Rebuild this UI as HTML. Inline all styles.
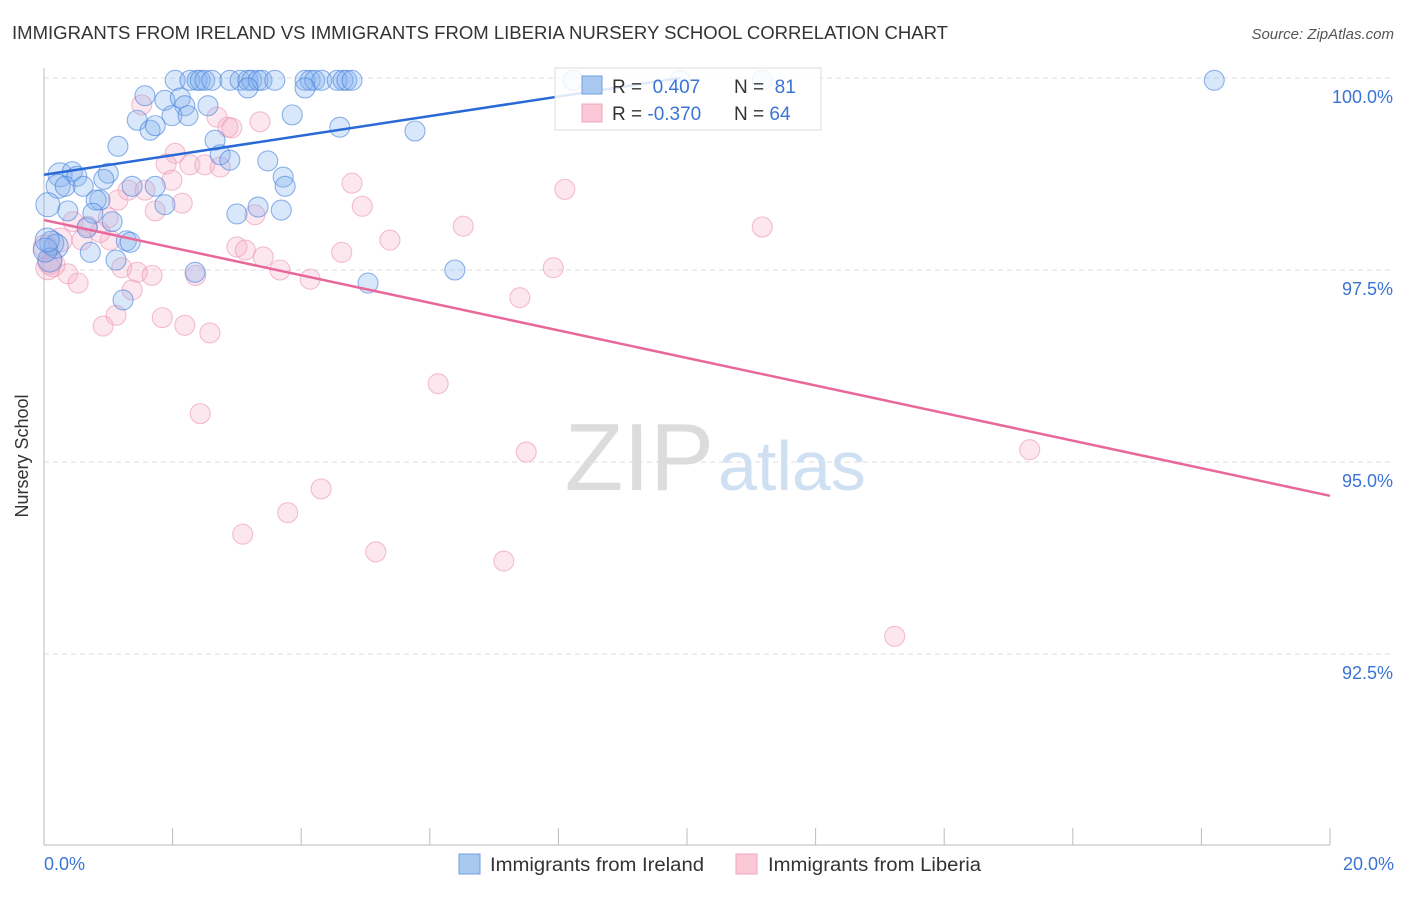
<!DOCTYPE html>
<html><head><meta charset="utf-8"><style>
body{margin:0;background:#fff;font-family:"Liberation Sans",sans-serif}
svg text{font-family:"Liberation Sans",sans-serif}
</style></head><body>
<svg id="c" width="1406" height="892">
<text x="12" y="39" font-size="18" fill="#333" textLength="936" lengthAdjust="spacingAndGlyphs">IMMIGRANTS FROM IRELAND VS IMMIGRANTS FROM LIBERIA NURSERY SCHOOL CORRELATION CHART</text>
<text x="1394" y="39" font-size="15" fill="#555" text-anchor="end" font-style="italic">Source: ZipAtlas.com</text>
<g id="grid"></g>
<text x="714" y="490" font-size="96" fill="#dcdcdc" text-anchor="end" font-family="Liberation Serif">ZIP</text>
<text x="718" y="490" font-size="70" fill="#cfe0f3">atlas</text>
<line x1="44" y1="68" x2="44" y2="845" stroke="#bbb"/>
<line x1="44" y1="845" x2="1330" y2="845" stroke="#bbb"/>
<g id="ticks"></g>
<g id="pts"></g>
<g id="lines"></g>
<text x="28" y="456" font-size="18" fill="#333" text-anchor="middle" transform="rotate(-90 28 456)">Nursery School</text>
<text x="44" y="870" font-size="18" fill="#3a74d4">0.0%</text>
<text x="1394" y="870" font-size="18" fill="#3a74d4" text-anchor="end">20.0%</text>
<g>
<rect x="555" y="68" width="266" height="62" fill="#fff" fill-opacity="0.85" stroke="#ddd"/>
<rect x="582" y="76" width="20" height="18" fill="#a9c8f0" stroke="#6f9fe0"/>
<rect x="582" y="104" width="20" height="18" fill="#fac8d6" stroke="#f0a5bb"/>
<text x="612" y="93" font-size="19" fill="#333">R = <tspan fill="#3a74d4">&#160;0.407</tspan></text>
<text x="734" y="93" font-size="19" fill="#333">N = <tspan fill="#3a74d4">&#160;81</tspan></text>
<text x="612" y="120" font-size="19" fill="#333">R = <tspan fill="#3a74d4">-0.370</tspan></text>
<text x="734" y="120" font-size="19" fill="#333">N = <tspan fill="#3a74d4">64</tspan></text>
</g>
<g>
<rect x="459" y="854" width="21" height="20" fill="#a9c8f0" stroke="#6f9fe0"/>
<text x="490" y="871" font-size="19" fill="#333" textLength="214" lengthAdjust="spacingAndGlyphs">Immigrants from Ireland</text>
<rect x="736" y="854" width="21" height="20" fill="#fac8d6" stroke="#f0a5bb"/>
<text x="768" y="871" font-size="19" fill="#333" textLength="213" lengthAdjust="spacingAndGlyphs">Immigrants from Liberia</text>
</g>
</svg>
<script>
const yTicks=[100,97.5,95,92.5];
const yTickLabels=["100.0%","97.5%","95.0%","92.5%"];
const xTicks=[0,2,4,6,8,10,12,14,16,18,20];
const irelandX=[2.04,2.27,2.38,2.43,2.50,2.61,2.89,3.05,3.17,3.23,3.33,3.39,3.59,4.06,4.14,4.21,4.32,4.56,4.65,4.71,4.79,8.23,9.89,11.17,18.20,3.17,4.06,1.57,1.88,2.12,2.19,2.55,1.99,2.24,1.45,1.65,1.73,3.86,4.60,5.77,1.15,2.66,2.74,2.89,3.48,0.25,0.44,0.51,0.22,0.33,0.61,1.0,0.93,1.37,1.73,3.72,3.75,0.06,0.37,0.87,0.81,0.76,1.88,3.0,3.33,3.69,0.67,1.06,0.12,0.19,0.72,1.28,1.34,1.12,2.35,1.23,5.04,6.39,0.09,0.02,0.05];
const irelandY=[99.97,99.97,99.97,99.97,99.97,99.97,99.97,99.97,99.97,99.97,99.97,99.97,99.97,99.97,99.97,99.97,99.97,99.97,99.97,99.97,99.97,99.97,99.97,99.97,99.97,99.87,99.87,99.77,99.71,99.74,99.64,99.64,99.51,99.51,99.45,99.32,99.38,99.52,99.36,99.31,99.11,99.19,99.0,98.93,98.92,98.74,98.78,98.72,98.59,98.59,98.59,98.76,98.68,98.59,98.59,98.71,98.59,98.35,98.27,98.41,98.41,98.24,98.35,98.23,98.32,98.28,98.05,98.13,97.85,97.81,97.73,97.88,97.86,97.63,97.47,97.11,97.33,97.5,97.63,97.76,97.89];
const liberiaX=[1.52,2.69,2.86,2.92,3.36,2.04,1.90,2.27,2.50,2.74,1.99,1.31,1.57,4.79,8.10,1.15,2.15,1.73,4.95,3.28,1.0,0.45,0.68,6.52,11.17,5.38,3.0,3.13,4.63,0.59,1.03,3.41,0.09,0.14,1.21,1.45,1.68,2.36,3.67,4.14,7.92,0.37,0.53,1.37,7.4,1.12,0.92,1.84,2.19,2.58,6.13,2.43,7.5,15.33,4.31,3.79,3.09,5.16,7.15,13.23,0.02,0.06,0.25,0.87];
const liberiaY=[99.65,99.49,99.36,99.35,99.43,99.02,98.88,98.87,98.87,98.84,98.67,98.54,98.54,98.63,98.55,98.41,98.37,98.27,98.33,98.22,98.18,98.13,98.07,98.07,98.06,97.89,97.8,97.76,97.73,97.89,97.89,97.67,97.6,97.57,97.53,97.47,97.43,97.43,97.5,97.38,97.53,97.45,97.33,97.24,97.14,96.91,96.77,96.88,96.78,96.68,96.02,95.63,95.13,95.16,94.65,94.34,94.06,93.83,93.71,92.73,97.8,97.53,97.89,97.99];
const irelandTrend=[98.74,0.1273]; // intercept, slope
const liberiaTrend=[98.15,-0.1795];
const NS="http://www.w3.org/2000/svg";
const xs=v=>44+v/20*1286, ys=v=>78+(100-v)*76.8;
function mk(t,a,p){const e=document.createElementNS(NS,t);for(const k in a)e.setAttribute(k,a[k]);p.appendChild(e);return e;}
const grid=document.getElementById('grid');
yTicks.forEach((v,i)=>{
 const l=mk('line',{x1:44,x2:1394,y1:ys(v),y2:ys(v),stroke:'#ddd','stroke-dasharray':'5,4'},grid);
 
 
 const t=mk('text',{x:1393,y:ys(v)+25,'font-size':18,fill:'#3a74d4','text-anchor':'end'},grid);
 t.textContent=yTickLabels[i];
 
 
});
const tk=document.getElementById('ticks');
xTicks.forEach(v=>{
 const l=mk('line',{x1:xs(v),x2:xs(v),y1:828,y2:845,stroke:'#bbb'},tk);
 
 
});
const pts=document.getElementById('pts');
function series(X,Y,fill,stroke,name){
 X.forEach((x,i)=>{
  const r=x<0.3?12:10;
  const c=mk('circle',{cx:xs(x),cy:ys(Y[i]),r:r,fill:fill,stroke:stroke,'stroke-width':1.1},pts);
  
  
 });
}
series(liberiaX,liberiaY,'rgba(246,175,200,0.3)','rgba(236,150,178,0.6)','liberia-point');
series(irelandX,irelandY,'rgba(130,175,238,0.3)','rgba(70,130,220,0.6)','ireland-point');
const lg=document.getElementById('lines');
const x1b=(100-irelandTrend[0])/irelandTrend[1];
const bl=mk('line',{x1:xs(0),y1:ys(irelandTrend[0]),x2:xs(x1b),y2:ys(100),stroke:'#2a6ad6','stroke-width':2.5},lg);


const pl=mk('line',{x1:xs(0),y1:ys(liberiaTrend[0]),x2:xs(20),y2:ys(liberiaTrend[0]+20*liberiaTrend[1]),stroke:'#e8689a','stroke-width':2.5},lg);


</script>
</body></html>
